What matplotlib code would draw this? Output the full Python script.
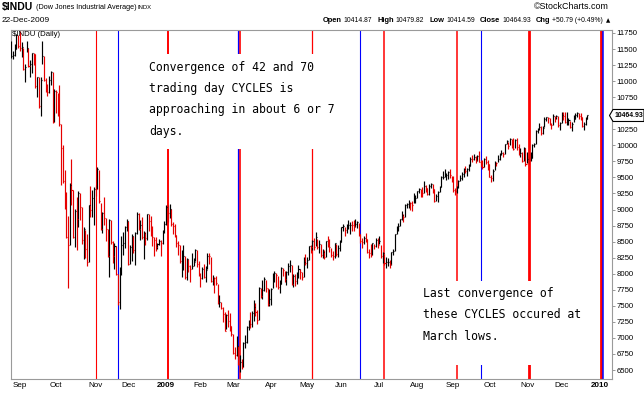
import matplotlib
matplotlib.use('Agg')
import matplotlib.pyplot as plt
import numpy as np
import pandas as pd
from matplotlib.patches import Rectangle, Polygon
from matplotlib.transforms import blended_transform_factory

# ---------------- data ----------------
start_date = '2008-08-25'
nyse_holidays = ['2008-09-01', '2008-11-27', '2008-12-25', '2009-01-01', '2009-01-19',
                 '2009-02-16', '2009-04-10', '2009-05-25', '2009-07-03', '2009-09-07',
                 '2009-11-26', '2009-12-25', '2010-01-01']

close = [
    # Aug 2008
    11386, 11413, 11502, 11715, 11543,
    # Sep 2008
    11516, 11533, 11188, 11220, 11511, 11231, 11268, 11433, 11421, 10918, 11059, 10609, 11019, 11388,
    11016, 10854, 10825, 11022, 11143, 10365, 10851,
    # Oct 2008
    10831, 10482, 10325, 9955, 9447, 9258, 8579, 8451, 9387, 9311, 8577, 8979, 8852, 9265, 9033,
    8519, 8691, 8378, 8175, 9065, 8991, 9180, 9325,
    # Nov 2008
    9319, 9625, 9139, 8696, 8943, 8870, 8693, 8283, 8835, 8497, 8273, 8424, 7997, 7552, 8046, 8443,
    8479, 8727, 8829,
    # Dec 2008
    8149, 8419, 8591, 8376, 8635, 8934, 8691, 8761, 8565, 8629, 8564, 8924, 8824, 8604, 8579, 8519,
    8419, 8468, 8515, 8483, 8668, 8776,
    # Jan 2009
    9034, 8952, 9015, 8769, 8742, 8599, 8474, 8448, 8200, 8212, 8281, 7949, 8228, 8123, 8077, 8116,
    8175, 8375, 8149, 8001,
    # Feb 2009
    7936, 8078, 7956, 8063, 8280, 8270, 7888, 7939, 7933, 7850, 7553, 7555, 7466, 7366, 7115, 7351,
    7270, 7183, 7063,
    # Mar 2009
    6763, 6726, 6876, 6594, 6627, 6547, 6926, 6930, 7170, 7224, 7217, 7395, 7487, 7400, 7278, 7776,
    7660, 7749, 7924, 7776, 7522, 7609,
    # Apr 2009
    7761, 7978, 8017, 7975, 7789, 7837, 8083, 8057, 7920, 8029, 8125, 8131, 7841, 7969, 7886, 7957,
    8076, 8025, 7945, 8185, 8168,
    # May 2009
    8212, 8426, 8410, 8512, 8409, 8575, 8418, 8469, 8284, 8331, 8268, 8504, 8474, 8422, 8292, 8277,
    8473, 8300, 8403, 8500,
    # Jun 2009
    8721, 8740, 8675, 8750, 8764, 8764, 8763, 8739, 8771, 8799, 8612, 8504, 8497, 8555, 8539, 8339,
    8323, 8299, 8472, 8438, 8529, 8447,
    # Jul 2009
    8504, 8280, 8324, 8163, 8178, 8183, 8146, 8331, 8359, 8616, 8711, 8743, 8848, 8916, 8881, 9069,
    9093, 9108, 9096, 9070, 9154, 9172,
    # Aug 2009
    9286, 9320, 9280, 9257, 9370, 9337, 9241, 9362, 9398, 9321, 9135, 9218, 9280, 9350, 9506, 9509,
    9540, 9543, 9580, 9545, 9496,
    # Sep 2009
    9310, 9281, 9344, 9441, 9497, 9547, 9627, 9605, 9627, 9684, 9792, 9784, 9820, 9778, 9829, 9748,
    9707, 9666, 9789, 9742, 9712,
    # Oct 2009
    9509, 9488, 9599, 9731, 9725, 9787, 9865, 9885, 9871, 10016, 10063, 9996, 10092, 10041, 9949,
    10081, 9972, 9868, 9882, 9762, 9962, 9713,
    # Nov 2009
    9789, 9772, 9803, 10005, 10023, 10227, 10247, 10292, 10198, 10270, 10406, 10437, 10426, 10333,
    10318, 10451, 10434, 10464, 10310, 10345,
    # Dec 2009
    10472, 10453, 10366, 10389, 10390, 10286, 10337, 10405, 10471, 10501, 10452, 10441, 10308, 10329,
    10414, 10465,
]

# distance of the daily high above the close
high_above = [
    240, 50, 80, 20, 170,
    270, 80, 330, 40, 120, 280, 60, 10, 20, 500, 10, 450, 40, 240, 370, 190, 130, 60, 20, 780, 20,
    30, 340, 620, 370, 560, 360, 700, 450, 30, 480, 730, 30, 340, 20, 230, 520, 40, 310, 440, 10, 380, 130, 20,
    70, 30, 480, 400, 20, 330, 170, 410, 10, 340, 230, 60, 430, 440, 60, 150, 170, 20, 20,
    670, 30, 20, 210, 10, 30, 250, 80, 320, 30, 90, 10, 100, 300, 170, 60, 160, 10, 30, 40, 10, 40,
    30, 120, 70, 240, 60, 180, 130, 60, 240, 150, 170, 320, 10, 100, 60, 210, 70, 10, 220, 190,
    70, 30, 190, 50, 40, 60, 380, 40, 20, 110, 290, 110, 100, 110, 290, 20, 160, 210, 120,
    300, 140, 160, 280, 100, 120, 10, 110, 10, 60, 180, 20, 100, 150, 160, 10, 120, 160, 20, 120, 250, 150,
    20, 40, 20, 30, 180, 60, 20, 30, 130, 10, 40, 90, 290, 20, 110, 70, 60, 50, 80, 80, 140,
    50, 10, 30, 20, 150, 70, 130, 50, 180, 50, 100, 10, 110, 120, 110, 70, 10, 170, 50, 20,
    10, 40, 60, 20, 80, 40, 60, 100, 80, 20, 180, 120, 60, 40, 90, 200, 60, 160, 10, 30, 30, 110,
    90, 170, 20, 150, 80, 60, 60, 10, 30, 10, 30, 40, 10, 60, 50, 10, 10, 40, 20, 60, 100, 50,
    10, 20, 40, 100, 80, 40, 100, 40, 20, 80, 190, 20, 10, 20, 10, 90, 90, 30, 20, 90, 30,
    210, 50, 20, 20, 40, 30, 20, 70, 20, 20, 20, 60, 40, 60, 20, 170, 60, 100, 10, 90, 60,
    200, 50, 30, 20, 20, 60, 10, 40, 20, 10, 20, 60, 20, 50, 170, 10, 140, 160, 80, 130, 10, 250,
    110, 50, 90, 10, 20, 10, 20, 50, 100, 30, 30, 10, 20, 90, 30, 40, 30, 10, 150, 20,
    50, 60, 160, 130, 40, 100, 20, 70, 40, 20, 50, 70, 130, 30, 30, 15,
]

# distance of the daily low below the close
low_below = [
    20, 70, 110, 215, 20,
    40, 160, 20, 230, 60, 10, 210, 310, 170, 20, 310, 20, 560, 120, 10, 30, 50, 200, 210, 20, 490,
    330, 20, 30, 580, 40, 250, 20, 680, 940, 240, 20, 560, 480, 530, 200, 60, 460, 140, 60, 890, 100, 300, 560,
    110, 300, 40, 20, 310, 110, 180, 20, 880, 30, 100, 350, 20, 40, 600, 470, 180, 330, 160,
    20, 260, 400, 60, 500, 320, 10, 230, 20, 400, 110, 400, 160, 20, 150, 250, 60, 80, 70, 210, 200, 140,
    270, 140, 150, 20, 130, 30, 60, 160, 30, 270, 230, 30, 320, 100, 200, 50, 60, 180, 40, 30,
    140, 160, 20, 190, 210, 120, 20, 120, 230, 30, 20, 80, 20, 120, 10, 220, 100, 70, 30,
    20, 60, 160, 20, 160, 30, 380, 80, 250, 100, 60, 230, 220, 60, 60, 500, 40, 140, 190, 60, 20, 110,
    250, 200, 140, 180, 20, 130, 240, 100, 50, 200, 150, 100, 20, 170, 80, 110, 150, 100, 50, 230, 30,
    120, 210, 80, 140, 40, 140, 30, 150, 20, 90, 40, 240, 60, 80, 30, 60, 230, 30, 150, 140,
    220, 80, 90, 110, 70, 150, 90, 80, 40, 90, 30, 20, 90, 90, 40, 20, 80, 40, 180, 60, 110, 40,
    40, 30, 160, 20, 90, 60, 60, 190, 60, 260, 90, 80, 100, 80, 70, 180, 70, 80, 100, 100, 60, 70,
    110, 60, 90, 60, 110, 60, 20, 130, 70, 60, 10, 90, 160, 80, 150, 40, 40, 90, 110, 60, 60,
    30, 60, 90, 100, 60, 80, 120, 40, 100, 80, 110, 50, 50, 60, 80, 10, 50, 30, 120, 30, 100,
    10, 60, 150, 120, 50, 50, 90, 30, 60, 150, 50, 50, 80, 80, 20, 130, 40, 20, 60, 20, 200, 30,
    70, 70, 40, 200, 50, 200, 60, 60, 40, 100, 120, 60, 80, 20, 60, 130, 70, 50, 30, 100,
    130, 60, 20, 70, 80, 20, 110, 40, 60, 60, 40, 40, 20, 90, 90, 50,
]

# cycle lines (bar index where they are drawn)
cycle42_idx = [49, 91, 133, 175, 217, 259, 301, 343]
cycle42_lw = [0.8, 1.4, 1.2, 0.9, 1.1, 1.1, 2.0, 2.0]
cycle70_idx = [62, 132, 203, 273, 344]
cycle70_lw = [0.8, 0.9, 0.8, 0.8, 1.1]

month_names = ['Sep', 'Oct', 'Nov', 'Dec', '2009', 'Feb', 'Mar', 'Apr', 'May', 'Jun',
               'Jul', 'Aug', 'Sep', 'Oct', 'Nov', 'Dec', '2010']
y_ticks = list(range(6500, 11751, 250))

header_title = '$INDU'
header_name = '(Dow Jones Industrial Average)'
header_exch = 'INDX'
header_date = '22-Dec-2009'
quote_labels = ['Open', 'High', 'Low', 'Close', 'Chg']
quote_values = ['10414.87', '10479.82', '10414.59', '10464.93', '+50.79 (+0.49%)']
last_price = '10464.93'

note1 = ['Convergence of 42 and 70', 'trading day CYCLES is',
         'approaching in about 6 or 7', 'days.']
note2 = ['Last convergence of', 'these CYCLES occured at', 'March lows.']

# ---------------- figure ----------------
W, H = 644, 395
fig = plt.figure(figsize=(W / 100, H / 100), dpi=100)
fig.patch.set_facecolor('white')
renderer = fig.canvas.get_renderer()

def fx(px):
    return px / W

def fy(py):
    return 1 - py / H

def text_w(t):
    return t.get_window_extent(renderer).width

ui_font = ['Liberation Sans Narrow', 'Liberation Sans', 'DejaVu Sans']

def fitted_text(x_px, y_px, s, target_w, size=6.0, weight='normal', ha='left', family=None):
    t = fig.text(fx(x_px), fy(y_px), s, fontsize=size, fontweight=weight,
                 family=family or ui_font, va='center', ha=ha)
    w = text_w(t)
    if w > 0:
        t.set_fontsize(size * target_w / w)
    return t

ax_left, ax_right, ax_top, ax_bot = 11, 612, 30, 379
ax = fig.add_axes([fx(ax_left), fy(ax_bot), (ax_right - ax_left) / W, (ax_bot - ax_top) / H])

n = min(len(close), len(high_above), len(low_below))
c = np.array(close[:n], dtype=float)
hi = c + np.array(high_above[:n])
lo = c - np.array(low_below[:n])
x = np.arange(n)
prev = np.concatenate([[c[0]], c[:-1]])
cols = np.where(c < prev, '#e60000', '#000000')

px_per_bar = 1.7197
x0_px = 11.3
ax.set_xlim((ax_left - x0_px) / px_per_bar, (ax_right - x0_px) / px_per_bar)
val_top = 11750 + (33 - ax_top) / 16.05 * 250
val_bot = 6500 - (ax_bot - 370) / 16.05 * 250
ax.set_ylim(val_bot, val_top)

# cycle lines
for xi, lw in zip(cycle42_idx, cycle42_lw):
    ax.axvline(xi, color='#ff0000', lw=lw, zorder=1)
for xi, lw in zip(cycle70_idx, cycle70_lw):
    ax.axvline(xi, color='#0000ff', lw=lw, zorder=1)

# OHLC-style bars (high-low with close tick)
ax.vlines(x, lo, hi, colors=cols, lw=0.85, zorder=3)
ax.hlines(c, x, x + 0.6, colors=cols, lw=0.85, zorder=3)

# axes styling
for sp in ax.spines.values():
    sp.set_color('#9a9a9a')
    sp.set_linestyle((0, (1, 1)))
    sp.set_linewidth(0.8)

last = c[-1]
ax.yaxis.tick_right()
ax.set_yticks(y_ticks)
# the tick label hidden behind the last-price marker is left blank
ax.set_yticklabels(['' if abs(v - last) < 125 else str(v) for v in y_ticks],
                   fontsize=5.6, family=ui_font)
ax.tick_params(axis='y', length=2, width=0.6, color='#888888', pad=1.2)

# month labels at first trading day of each month
dates = pd.bdate_range(start_date, '2010-01-08', freq='C', holidays=nyse_holidays)
period = dates.to_period('M')
month_pos = [i for i in range(1, len(dates)) if period[i] != period[i - 1]]
month_pos = month_pos[:len(month_names)]
ax.set_xticks(month_pos)
ax.set_xticklabels(month_names[:len(month_pos)], fontsize=5.8, family=ui_font)
for lab in ax.get_xticklabels():
    if lab.get_text() in ('2009', '2010'):
        lab.set_fontweight('bold')
ax.tick_params(axis='x', length=0, pad=2.2)

# last price marker
tr = blended_transform_factory(ax.transAxes, ax.transData)
ax_w = ax_right - ax_left
dy = 6.0 / 16.05 * 250

def axfrac(px):
    return (px - ax_left) / ax_w

poly = Polygon([(axfrac(609.5), last), (axfrac(613.0), last + dy), (axfrac(644), last + dy),
                (axfrac(644), last - dy), (axfrac(613.0), last - dy)], closed=True,
               transform=tr, facecolor='white', edgecolor='black', lw=0.8,
               clip_on=False, zorder=10)
ax.add_patch(poly)
lp = ax.text(axfrac(614.2), last, last_price, transform=tr, fontsize=5.6, fontweight='bold',
             family=ui_font, va='center', ha='left', clip_on=False, zorder=11)
w_lp = text_w(lp)
if w_lp > 0:
    lp.set_fontsize(5.6 * 28.5 / w_lp)

# header row 1
fitted_text(2, 7.2, header_title, 31, size=7.5, weight='bold')
fitted_text(36, 7.4, header_name, 100, size=5.8)
fitted_text(138, 7.4, header_exch, 14, size=5.4)
fitted_text(2, 21, header_date, 48, size=6)
fitted_text(609, 6.5, '\u00a9StockCharts.com', 75, size=6, ha='right')

# header row 2: quote, measured and laid out so that it ends left of the triangle
quote_texts = []
for lab, val in zip(quote_labels, quote_values):
    t1 = fig.text(0, fy(20.5), lab, fontsize=5.7, fontweight='bold', family=ui_font,
                  va='center', ha='left')
    t2 = fig.text(0, fy(20.8), val, fontsize=5.1, family=ui_font, va='center', ha='left')
    quote_texts.append((t1, 2.0))
    quote_texts.append((t2, 5.0))
total = sum(text_w(t) + g for t, g in quote_texts) - quote_texts[-1][1]
scale = min(1.0, (603 - 324) / total)
if scale < 1.0:
    for t, g in quote_texts:
        t.set_fontsize(t.get_fontsize() * scale)
    total = sum(text_w(t) + g for t, g in quote_texts) - quote_texts[-1][1]
cur = 603 - total
for t, g in quote_texts:
    t.set_x(fx(cur))
    cur += text_w(t) + g
fig.text(fx(606), fy(20.5), '\u25b2', fontsize=4, family=['DejaVu Sans'], va='center', ha='left')

fitted_text(12.5, 34.5, '$INDU (Daily)', 48, size=5.8)

# annotation boxes
fig.patches.append(Rectangle((fx(145), fy(149)), (342 - 145) / W, (149 - 54) / H,
                             transform=fig.transFigure, facecolor='white', edgecolor='none',
                             zorder=1, figure=fig))
fig.patches.append(Rectangle((fx(418), fy(365)), (588 - 418) / W, (365 - 281) / H,
                             transform=fig.transFigure, facecolor='white', edgecolor='none',
                             zorder=1, figure=fig))
mono = ['DejaVu Sans Mono']
for i, line in enumerate(note1):
    fig.text(fx(149), fy(70.7 + i * 21.3), line, fontsize=8.3, family=mono,
             va='baseline', ha='left', zorder=3)
for i, line in enumerate(note2):
    fig.text(fx(422.7), fy(296.7 + i * 21.7), line, fontsize=8.3, family=mono,
             va='baseline', ha='left', zorder=3)

fig.savefig('out.png', dpi=100, facecolor='white')
